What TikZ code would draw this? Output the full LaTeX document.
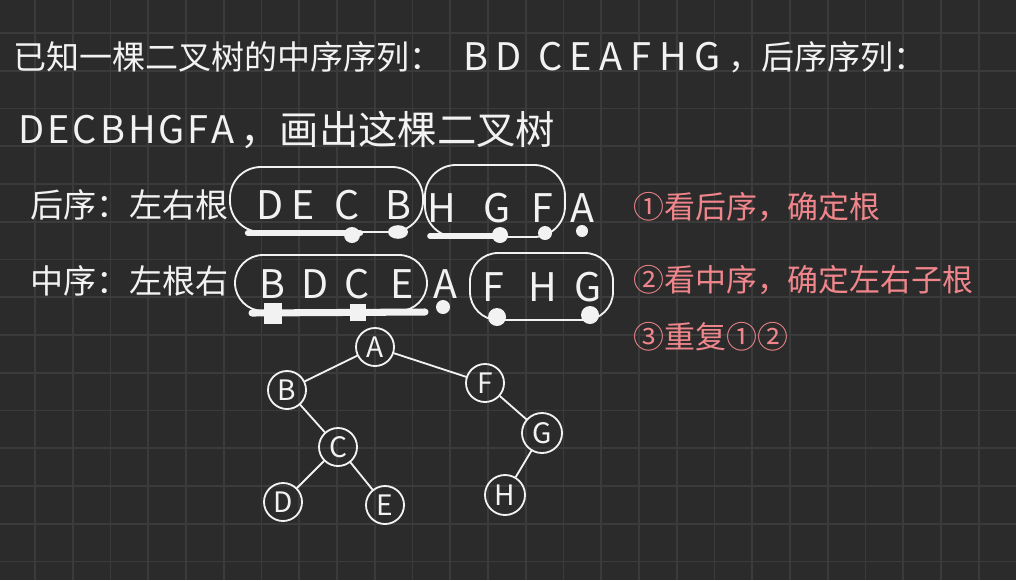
\documentclass[tikz,border=0pt]{standalone}
\usepackage{fontspec}
\setmainfont{Noto Sans CJK SC}
\definecolor{board}{HTML}{2B2B2B}
\definecolor{gridc}{HTML}{3B3B3B}
\definecolor{chalk}{HTML}{F2F2F2}
\definecolor{note}{HTML}{F0868B}
\newcommand{\lgap}{\hspace{0.2em}}
\newcommand{\sgap}{\hspace{0.08em}}

\tikzset{
  gridline/.style={gridc, line width=1.1pt},
  ink/.style={chalk, line width=1.3pt, line cap=round, line join=round},
  heavy/.style={chalk, line width=4.5pt, line cap=round},
  cjk/.style={text=chalk, inner sep=0pt, anchor=west},
  seqletter/.style={text=chalk, inner sep=0pt, font=\fontsize{28}{30}\selectfont},
  treenode/.style={circle, draw=chalk, line width=1.3pt, minimum size=0.95cm,
    inner sep=0pt, text=chalk, font=\fontsize{20}{22}\selectfont},
  redtext/.style={text=note, inner sep=0pt, anchor=west, font=\fontsize{22}{24}\selectfont},
}

\begin{document}
\begin{tikzpicture}[x=0.025cm, y=-0.025cm]
  \fill[board] (0,0) rectangle (1016,580);
  \useasboundingbox (0,0) rectangle (1016,580);
  % grid of the board
  \foreach \i in {0,...,25} \draw[gridline] ({35+37.75*\i},0) -- ({35+37.75*\i},580);
  \foreach \j in {0,...,14} \draw[gridline] (0,{33+37.75*\j}) -- (1016,{33+37.75*\j});

  % the question
  \node[cjk, font=\fontsize{23.5}{25}\selectfont] (q1a) at (13,57) {已知一棵二叉树的中序序列：};
  \node[cjk, font=\fontsize{27}{28}\selectfont] (q1b) at (463,57)
    {B\lgap D\lgap\ C\lgap E\lgap A\lgap F\lgap H\lgap G};
  \node[cjk, font=\fontsize{23.5}{25}\selectfont] (q1c) at (728,57) {，后序序列：};
  \node[cjk, font=\fontsize{27}{28}\selectfont] (q2a) at (18,130)
    {D\sgap E\sgap C\sgap B\sgap H\sgap G\sgap F\sgap A};
  \node[cjk, font=\fontsize{28}{30}\selectfont] (q2b) at (240,130) {，画出这棵二叉树};

  % row labels
  \node[cjk, font=\fontsize{23.5}{25}\selectfont] (postlabel) at (30,205) {后序：左右根};
  \node[cjk, font=\fontsize{23.5}{25}\selectfont] (inlabel) at (30,281) {中序：左根右};

  % post-order letters
  \node[seqletter] (postD) at (270,205) {D};
  \node[seqletter] (postE) at (303,205) {E};
  \node[seqletter] (postC) at (347,205) {C};
  \node[seqletter] (postB) at (398,205) {B};
  \node[seqletter] (postH) at (442,208) {H};
  \node[seqletter] (postG) at (497,208) {G};
  \node[seqletter] (postF) at (542,208) {F};
  \node[seqletter] (postA) at (582,208) {A};
  % in-order letters
  \node[seqletter] (inB) at (272,284) {B};
  \node[seqletter] (inD) at (315,284) {D};
  \node[seqletter] (inC) at (357,284) {C};
  \node[seqletter] (inE) at (402,284) {E};
  \node[seqletter] (inA) at (445,284) {A};
  \node[seqletter] (inF) at (493,287) {F};
  \node[seqletter] (inH) at (543,287) {H};
  \node[seqletter] (inG) at (588,287) {G};

  % loops round the subtrees
  \draw[ink, rounded corners=22pt] (230,167) rectangle (423,232);
  \draw[ink, rounded corners=22pt] (425,165) rectangle (565,237);
  \draw[ink, rounded corners=20pt] (235,255) rectangle (427,311);
  \draw[ink, rounded corners=20pt] (470,253) rectangle (613,320);

  % marks under the post-order
  \draw[heavy] (248,233) -- (360,233);
  \fill[chalk] (352,235) circle[radius=0.2cm];
  \fill[chalk] (398,232) ellipse[x radius=0.25cm, y radius=0.17cm];
  \draw[heavy, line width=4pt] (430,236) -- (500,236);
  \fill[chalk] (500,235) circle[radius=0.2cm];
  \fill[chalk] (545,233) circle[radius=0.175cm];
  \fill[chalk] (582,231) circle[radius=0.15cm];
  % marks under the in-order
  \draw[heavy, line width=5pt] (252,313) -- (425,312);
  \fill[chalk] (264,303) rectangle (282,324);
  \fill[chalk] (350,304) rectangle (366,321);
  \fill[chalk] (443,307) circle[radius=0.175cm];
  \fill[chalk] (497,317) circle[radius=0.225cm];
  \fill[chalk] (590,315) circle[radius=0.225cm];

  % the tree
  \node[treenode] (A) at (375,347) {A};
  \node[treenode] (B) at (287,390) {B};
  \node[treenode] (F) at (485,383) {F};
  \node[treenode] (C) at (338,447) {C};
  \node[treenode, minimum size=1.0cm] (G) at (542,433) {G};
  \node[treenode] (D) at (283,502) {D};
  \node[treenode] (E) at (385,505) {E};
  \node[treenode, minimum size=1.0cm] (H) at (505,495) {H};
  \draw[ink] (A) -- (B);
  \draw[ink] (A) -- (F);
  \draw[ink] (B) -- (C);
  \draw[ink] (C) -- (D);
  \draw[ink] (C) -- (E);
  \draw[ink] (F) -- (G);
  \draw[ink] (G) -- (H);

  % the steps, in red
  \node[redtext] (step1) at (633,207) {①看后序，确定根};
  \node[redtext] (step2) at (633,280) {②看中序，确定左右子根};
  \node[redtext] (step3) at (633,337) {③重复①②};
\end{tikzpicture}
\end{document}
